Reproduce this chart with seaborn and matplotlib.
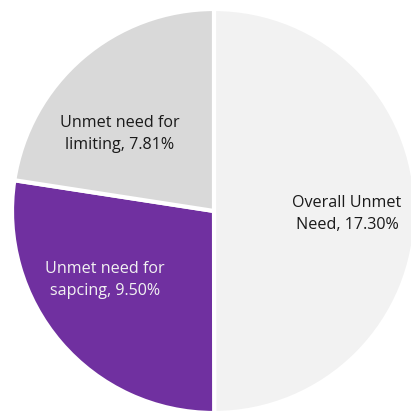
import matplotlib
matplotlib.use("Agg")
import matplotlib.pyplot as plt
import seaborn as sns

# Data (slice sizes and label texts)
slice_names = ["Overall Unmet Need", "Unmet need for sapcing", "Unmet need for limiting"]
slice_values = [17.30, 9.50, 7.81]
label_texts = ["Overall Unmet\nNeed, 17.30%", "Unmet need for\nsapcing, 9.50%", "Unmet need for\nlimiting, 7.81%"]
slice_colors = ["#F2F2F2", "#7030A0", "#D9D9D9"]
text_colors = ["#1a1a1a", "#f2f2f2", "#1a1a1a"]

sns.set_theme(style="white")
plt.rcParams["font.family"] = ["Open Sans", "DejaVu Sans"]

W, H = 411, 413
fig = plt.figure(figsize=(W / 100, H / 100), dpi=100)
ax = fig.add_axes([0, 0, 1, 1])

R = 202.0
cx, cy = 214.0, 211.0
wedges, _ = ax.pie(slice_values, colors=slice_colors, startangle=90, counterclock=False,
                   radius=1.0, wedgeprops=dict(edgecolor="white", linewidth=3.0))
ax.set_aspect("auto")
ax.set_xlim(-cx / R, (W - cx) / R)
ax.set_ylim(-(H - cy) / R, cy / R)
ax.axis("off")

# label positions in pixels (image coords)
label_pos = [(347, 214), (105, 280), (120, 134)]
for (px, py), txt, col in zip(label_pos, label_texts, text_colors):
    ax.text((px - cx) / R, (cy - py) / R, txt, ha="center", va="center",
            fontsize=11.6, color=col, linespacing=1.55)

fig.savefig("out.png", dpi=100)
